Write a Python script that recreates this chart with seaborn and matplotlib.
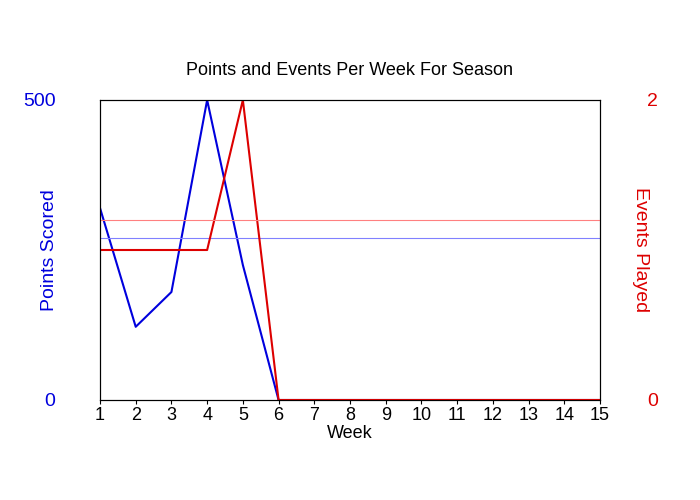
import matplotlib
matplotlib.use("Agg")
import matplotlib.pyplot as plt
import seaborn as sns
import numpy as np

weeks = list(range(1, 16))
points = [320, 122, 180, 500, 225, 0, 0, 0, 0, 0, 0, 0, 0, 0, 0]
events = [1, 1, 1, 1, 2, 0, 0, 0, 0, 0, 0, 0, 0, 0, 0]

sns.set_style("white")
plt.rcParams['font.family'] = ['Liberation Sans', 'DejaVu Sans']
plt.rcParams['text.color'] = 'black'
plt.rcParams['axes.labelcolor'] = 'black'
plt.rcParams['xtick.color'] = 'black'

fig = plt.figure(figsize=(7, 5), dpi=100)
ax = fig.add_axes([100/700, 100/500, 500/700, 300/500])
ax2 = ax.twinx()

sns.lineplot(x=weeks, y=points, ax=ax, color="#0000dd", linewidth=1.5)
sns.lineplot(x=weeks, y=events, ax=ax2, color="#dd0000", linewidth=1.5)

pm = np.mean([p for p in points if p > 0])
em = np.mean([e for e in events if e > 0])
ax.axhline(pm, color="#8080ff", linewidth=0.8)
ax2.axhline(em, color="#ff8080", linewidth=0.8)

ax.set_xlim(1, 15)
ax.set_ylim(0, 500)
ax2.set_ylim(0, 2)
ax.set_xticks(weeks)
ax.set_yticks([0, 500])
ax2.set_yticks([0, 2])
ax.tick_params(axis='x', labelsize=13, length=3, bottom=True, pad=2)
ax.tick_params(axis='y', labelsize=14, colors="#0000dd", length=0, pad=32)
ax2.tick_params(axis='y', labelsize=14, colors="#dd0000", length=0, pad=34)
ax.set_xlabel("Week", fontsize=13, labelpad=1)
ax.set_ylabel("Points Scored", fontsize=14, color="#0000dd")
ax.yaxis.set_label_coords(-0.084, 0.5)
ax2.set_ylabel("Events Played", fontsize=14, color="#dd0000", rotation=270, va="center")
ax2.yaxis.set_label_coords(1.082, 0.5)
ax.set_title("Points and Events Per Week For Season", fontsize=13, pad=18)
for a in (ax, ax2):
    for s in a.spines.values():
        s.set_color("black")
        s.set_linewidth(0.8)

fig.savefig("out.png", dpi=100)
